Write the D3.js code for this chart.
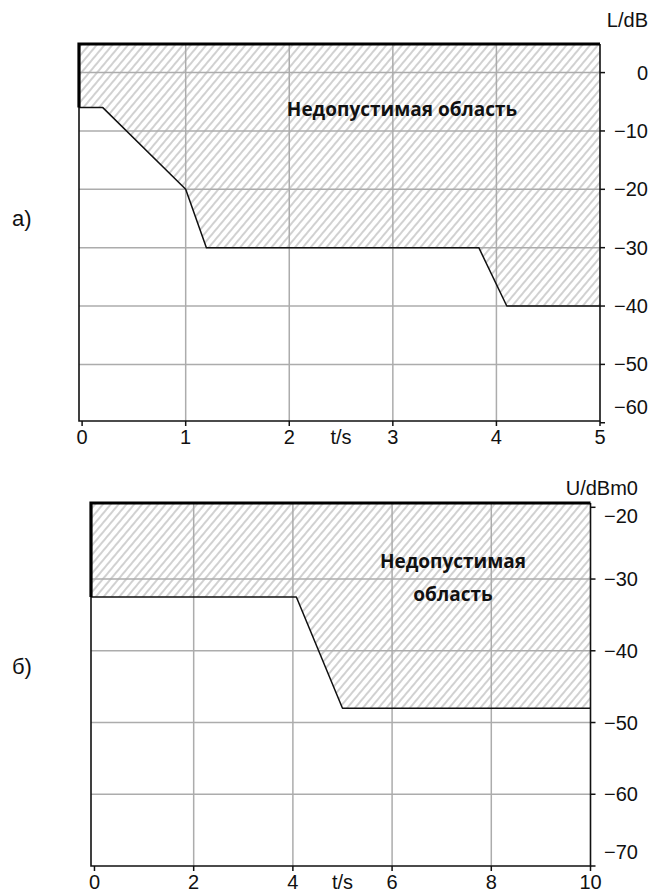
<!DOCTYPE html>
<html>
<head>
<meta charset="utf-8">
<script src="https://cdn.jsdelivr.net/npm/d3@7"></script>
<style>
  body { margin: 0; background: #fff; }
  svg { display: block; }
  .num { font-family: "Liberation Sans", Arial, sans-serif; font-size: 20px; fill: #111; }
  .zone { font-family: "Open Sans", sans-serif; font-weight: 700; font-size: 19px; fill: #111; }
</style>
</head>
<body>
<div id="chart"></div>
<script>
// --- data ---
// panel a): boundary of the forbidden zone, L/dB over t/s
var aTime  = [0, 0.2, 1, 1.2, 3.83, 4.1, 5];
var aLevel = [-6, -6, -20, -30, -30, -40, -40];
var aXTicks = [0, 1, 2, 3, 4, 5];
var aYTicks = [0, -10, -20, -30, -40, -50, -60];
var aXGrid = [1, 2, 3, 4];
var aYGrid = [0, -10, -20, -30, -40, -50];

// panel б): boundary, U/dBm0 over t/s
var bTime  = [0, 4.07, 5, 10];
var bLevel = [-32.5, -32.5, -48, -48];
var bXTicks = [0, 2, 4, 6, 8, 10];
var bYTicks = [-20, -30, -40, -50, -60, -70];
var bXGrid = [2, 4, 6, 8];
var bYGrid = [-30, -40, -50, -60];

var width = 650, height = 892;

var svg = d3.select("#chart").append("svg")
    .attr("width", width)
    .attr("height", height);

// diagonal hatching "/"
svg.append("defs").append("pattern")
    .attr("id", "hatch")
    .attr("patternUnits", "userSpaceOnUse")
    .attr("width", 6)
    .attr("height", 10)
    .attr("patternTransform", "rotate(40)")
  .append("line")
    .attr("x1", 1).attr("y1", 0)
    .attr("x2", 1).attr("y2", 10)
    .attr("stroke", "#b2b2b2")
    .attr("stroke-width", 1.2);

function panel(cfg) {
    var x = d3.scaleLinear().domain(cfg.xDomain).range(cfg.xRange);
    var y = d3.scaleLinear().domain(cfg.yDomain).range(cfg.yRange);
    var g = svg.append("g");

    var x0 = x.domain()[0], x1 = x.domain()[1];
    var yTop = y.domain()[1], yBot = y.domain()[0];

    var pts = cfg.time.map(function(t, i) { return [t, cfg.level[i]]; });
    pts.unshift([x0, cfg.level[0]]);

    // hatched forbidden zone
    var zone = pts.concat([[x1, yTop], [x0, yTop]]);
    g.append("path")
        .attr("d", d3.line().x(function(d) { return x(d[0]); }).y(function(d) { return y(d[1]); })(zone) + "Z")
        .attr("fill", "url(#hatch)");

    // grid
    g.selectAll(".gx").data(cfg.xGrid).join("line")
        .attr("x1", function(d) { return x(d); }).attr("x2", function(d) { return x(d); })
        .attr("y1", y(yTop)).attr("y2", y(yBot))
        .attr("stroke", "#acacac").attr("stroke-width", 1.5);
    g.selectAll(".gy").data(cfg.yGrid).join("line")
        .attr("x1", x(x0)).attr("x2", x(x1))
        .attr("y1", function(d) { return y(d); }).attr("y2", function(d) { return y(d); })
        .attr("stroke", "#acacac").attr("stroke-width", 1.5);

    // frame: left, bottom, right
    g.append("path")
        .attr("d", "M" + x(x0) + "," + y(yTop) + "V" + y(yBot) + "H" + x(x1) + "V" + y(yTop))
        .attr("fill", "none").attr("stroke", "#111").attr("stroke-width", 1.6);

    // ticks
    g.selectAll(".tx").data(cfg.xTicks).join("line")
        .attr("x1", function(d) { return x(d); }).attr("x2", function(d) { return x(d); })
        .attr("y1", y(yBot)).attr("y2", y(yBot) + 5)
        .attr("stroke", "#111").attr("stroke-width", 1.5);
    g.selectAll(".ty").data(cfg.yTicks).join("line")
        .attr("x1", x(x1)).attr("x2", x(x1) + 5)
        .attr("y1", function(d) { return y(d); }).attr("y2", function(d) { return y(d); })
        .attr("stroke", "#111").attr("stroke-width", 1.5);

    // boundary line
    g.append("path")
        .attr("d", d3.line().x(function(d) { return x(d[0]); }).y(function(d) { return y(d[1]); })(pts))
        .attr("fill", "none").attr("stroke", "#111").attr("stroke-width", 1.5)
        .attr("stroke-linejoin", "round");

    // thick edge: left wall above boundary and top
    g.append("path")
        .attr("d", "M" + x(x0) + "," + y(cfg.level[0]) + "V" + y(yTop) + "H" + x(x1))
        .attr("fill", "none").attr("stroke", "#000").attr("stroke-width", 3.2);

    // tick labels
    g.selectAll(".lx").data(cfg.xTicks).join("text")
        .attr("class", "num")
        .attr("x", function(d) { return x(d); })
        .attr("y", y(yBot) + 23)
        .attr("text-anchor", "middle")
        .text(function(d) { return d; });
    g.selectAll(".ly").data(cfg.yTicks).join("text")
        .attr("class", "num")
        .attr("x", cfg.yLabelX)
        .attr("y", function(d) {
            var c = Math.max(y(yTop) + 13, Math.min(y(yBot) - 14, y(d)));
            return c + 7;
        })
        .attr("text-anchor", "end")
        .text(function(d) { return d < 0 ? "\u2212" + Math.abs(d) : d; });

    // axis titles
    g.append("text").attr("class", "num")
        .attr("x", x(cfg.tsAt)).attr("y", y(yBot) + 23)
        .attr("text-anchor", "middle").text("t/s");
    g.append("text").attr("class", "num")
        .attr("x", cfg.yLabelX).attr("y", cfg.titleY)
        .attr("text-anchor", "end").text(cfg.title);

    // panel letter
    g.append("text").attr("class", "num")
        .style("font-size", "22px")
        .attr("x", 12).attr("y", cfg.letterY)
        .text(cfg.letter);

    // zone caption
    g.append("text").attr("class", "zone")
        .attr("x", cfg.capX).attr("y", cfg.capY)
        .attr("text-anchor", "middle")
        .selectAll("tspan").data(cfg.caption).join("tspan")
        .attr("x", cfg.capX)
        .attr("dy", function(d, i) { return i ? 33 : 0; })
        .text(function(d) { return d; });
}

panel({
    time: aTime, level: aLevel,
    xDomain: [-0.03, 5], xRange: [79, 600],
    yDomain: [-59.7, 4.9], yRange: [421, 44],
    xTicks: aXTicks, yTicks: aYTicks, xGrid: aXGrid, yGrid: aYGrid,
    yLabelX: 648, title: "L/dB", titleY: 27, tsAt: 2.5,
    letter: "а)", letterY: 226,
    caption: ["Недопустимая область"], capX: 402, capY: 116
});

panel({
    time: bTime, level: bLevel,
    xDomain: [-0.07, 10], xRange: [91, 590.5],
    yDomain: [-70, -19.4], yRange: [866, 503],
    xTicks: bXTicks, yTicks: bYTicks, xGrid: bXGrid, yGrid: bYGrid,
    yLabelX: 638, title: "U/dBm0", titleY: 495, tsAt: 5,
    letter: "б)", letterY: 674,
    caption: ["Недопустимая", "область"], capX: 453, capY: 568
});
</script>
</body>
</html>
